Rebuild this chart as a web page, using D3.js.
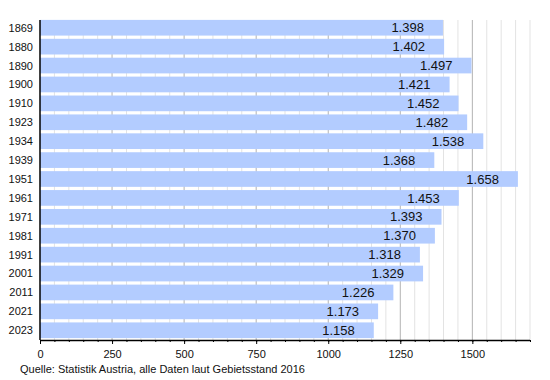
<!DOCTYPE html>
<html>
<head>
<meta charset="utf-8">
<script src="https://cdn.jsdelivr.net/npm/d3@7"></script>
<style>
  body { margin: 0; background: #fff; }
  svg text { font-family: "Liberation Sans", Arial, sans-serif; }
</style>
</head>
<body>
<div id="chart"></div>
<script>
// data
var years  = ["1869", "1880", "1890", "1900", "1910", "1923", "1934", "1939", "1951",
              "1961", "1971", "1981", "1991", "2001", "2011", "2021", "2023"];
var people = [1398, 1402, 1497, 1421, 1452, 1482, 1538, 1368, 1658,
              1453, 1393, 1370, 1318, 1329, 1226, 1173, 1158];
var majorTicks = [0, 250, 500, 750, 1000, 1250, 1500];
var sourceText = "Quelle: Statistik Austria, alle Daten laut Gebietsstand 2016";

function drawChart()
  {
  var width = 550, height = 380;
  var left = 40, right = 530, top = 18, bottom = 340;

  var svg = d3.select("#chart").append("svg")
    .attr("width", width)
    .attr("height", height);

  var x = d3.scaleLinear().domain([0, 1700]).range([left, right]);
  var y = d3.scaleBand().domain(years).range([top, bottom]).paddingInner(0.17).paddingOuter(0.1);

  // gridlines, minor every 50 and major every 250
  var minor = d3.range(50, 1701, 50).filter(function(d) { return d % 250 !== 0; });
  svg.append("g").selectAll("line").data(minor).enter().append("line")
    .attr("x1", function(d) { return x(d); })
    .attr("x2", function(d) { return x(d); })
    .attr("y1", top + 2).attr("y2", bottom)
    .attr("stroke", "#e3e3e3").attr("stroke-width", 1);
  svg.append("g").selectAll("line").data(majorTicks.slice(1)).enter().append("line")
    .attr("x1", function(d) { return x(d); })
    .attr("x2", function(d) { return x(d); })
    .attr("y1", top + 2).attr("y2", bottom)
    .attr("stroke", "#b3b3b3").attr("stroke-width", 1);

  // bars
  svg.append("g").selectAll("rect").data(people).enter().append("rect")
    .attr("x", x(0))
    .attr("y", function(d, i) { return y(years[i]); })
    .attr("width", function(d) { return x(d) - x(0); })
    .attr("height", y.bandwidth())
    .attr("fill", "#b3ccff");

  // value labels, German thousands separator
  var fmt = d3.formatLocale({ decimal: ",", thousands: ".", grouping: [3], currency: ["", " €"] }).format(",d");
  svg.append("g").selectAll("text").data(people).enter().append("text")
    .attr("x", function(d) { return x(d) - 19; })
    .attr("y", function(d, i) { return y(years[i]) + y.bandwidth() / 2; })
    .attr("dy", "0.36em")
    .attr("text-anchor", "end")
    .attr("font-size", "13px")
    .attr("fill", "#111")
    .text(fmt);

  // year labels
  svg.append("g").selectAll("text").data(years).enter().append("text")
    .attr("x", 33)
    .attr("y", function(d) { return y(d) + y.bandwidth() / 2; })
    .attr("dy", "0.36em")
    .attr("text-anchor", "end")
    .attr("font-size", "11px")
    .attr("fill", "#111")
    .text(function(d) { return d; });

  // bottom axis: minor ticks + labelled major ticks
  svg.append("g")
    .attr("transform", "translate(0," + bottom + ")")
    .call(d3.axisBottom(x).tickValues(d3.range(0, 1701, 50)).tickSize(2).tickFormat(""))
    .call(function(g) { g.select(".domain").remove(); g.selectAll("line").attr("stroke", "#000"); });

  var axis = svg.append("g")
    .attr("transform", "translate(0," + bottom + ")")
    .call(d3.axisBottom(x).tickValues(majorTicks).tickSize(4).tickPadding(6).tickFormat(d3.format("d")));
  axis.select(".domain").remove();
  axis.selectAll("line").attr("stroke", "#000");
  axis.selectAll("text").attr("font-size", "11px").attr("fill", "#111")
    .attr("font-family", "Liberation Sans, Arial, sans-serif");

  svg.append("line")
    .attr("x1", left).attr("x2", right)
    .attr("y1", bottom + 0.5).attr("y2", bottom + 0.5)
    .attr("stroke", "#000").attr("stroke-width", 1.5);
  svg.append("line")
    .attr("x1", left).attr("x2", left)
    .attr("y1", top + 2).attr("y2", bottom)
    .attr("stroke", "#000").attr("stroke-width", 1.5);

  // source note
  svg.append("text")
    .attr("x", 20).attr("y", 373)
    .attr("font-size", "11px")
    .attr("fill", "#111")
    .text(sourceText);
  }

drawChart();
</script>
</body>
</html>
